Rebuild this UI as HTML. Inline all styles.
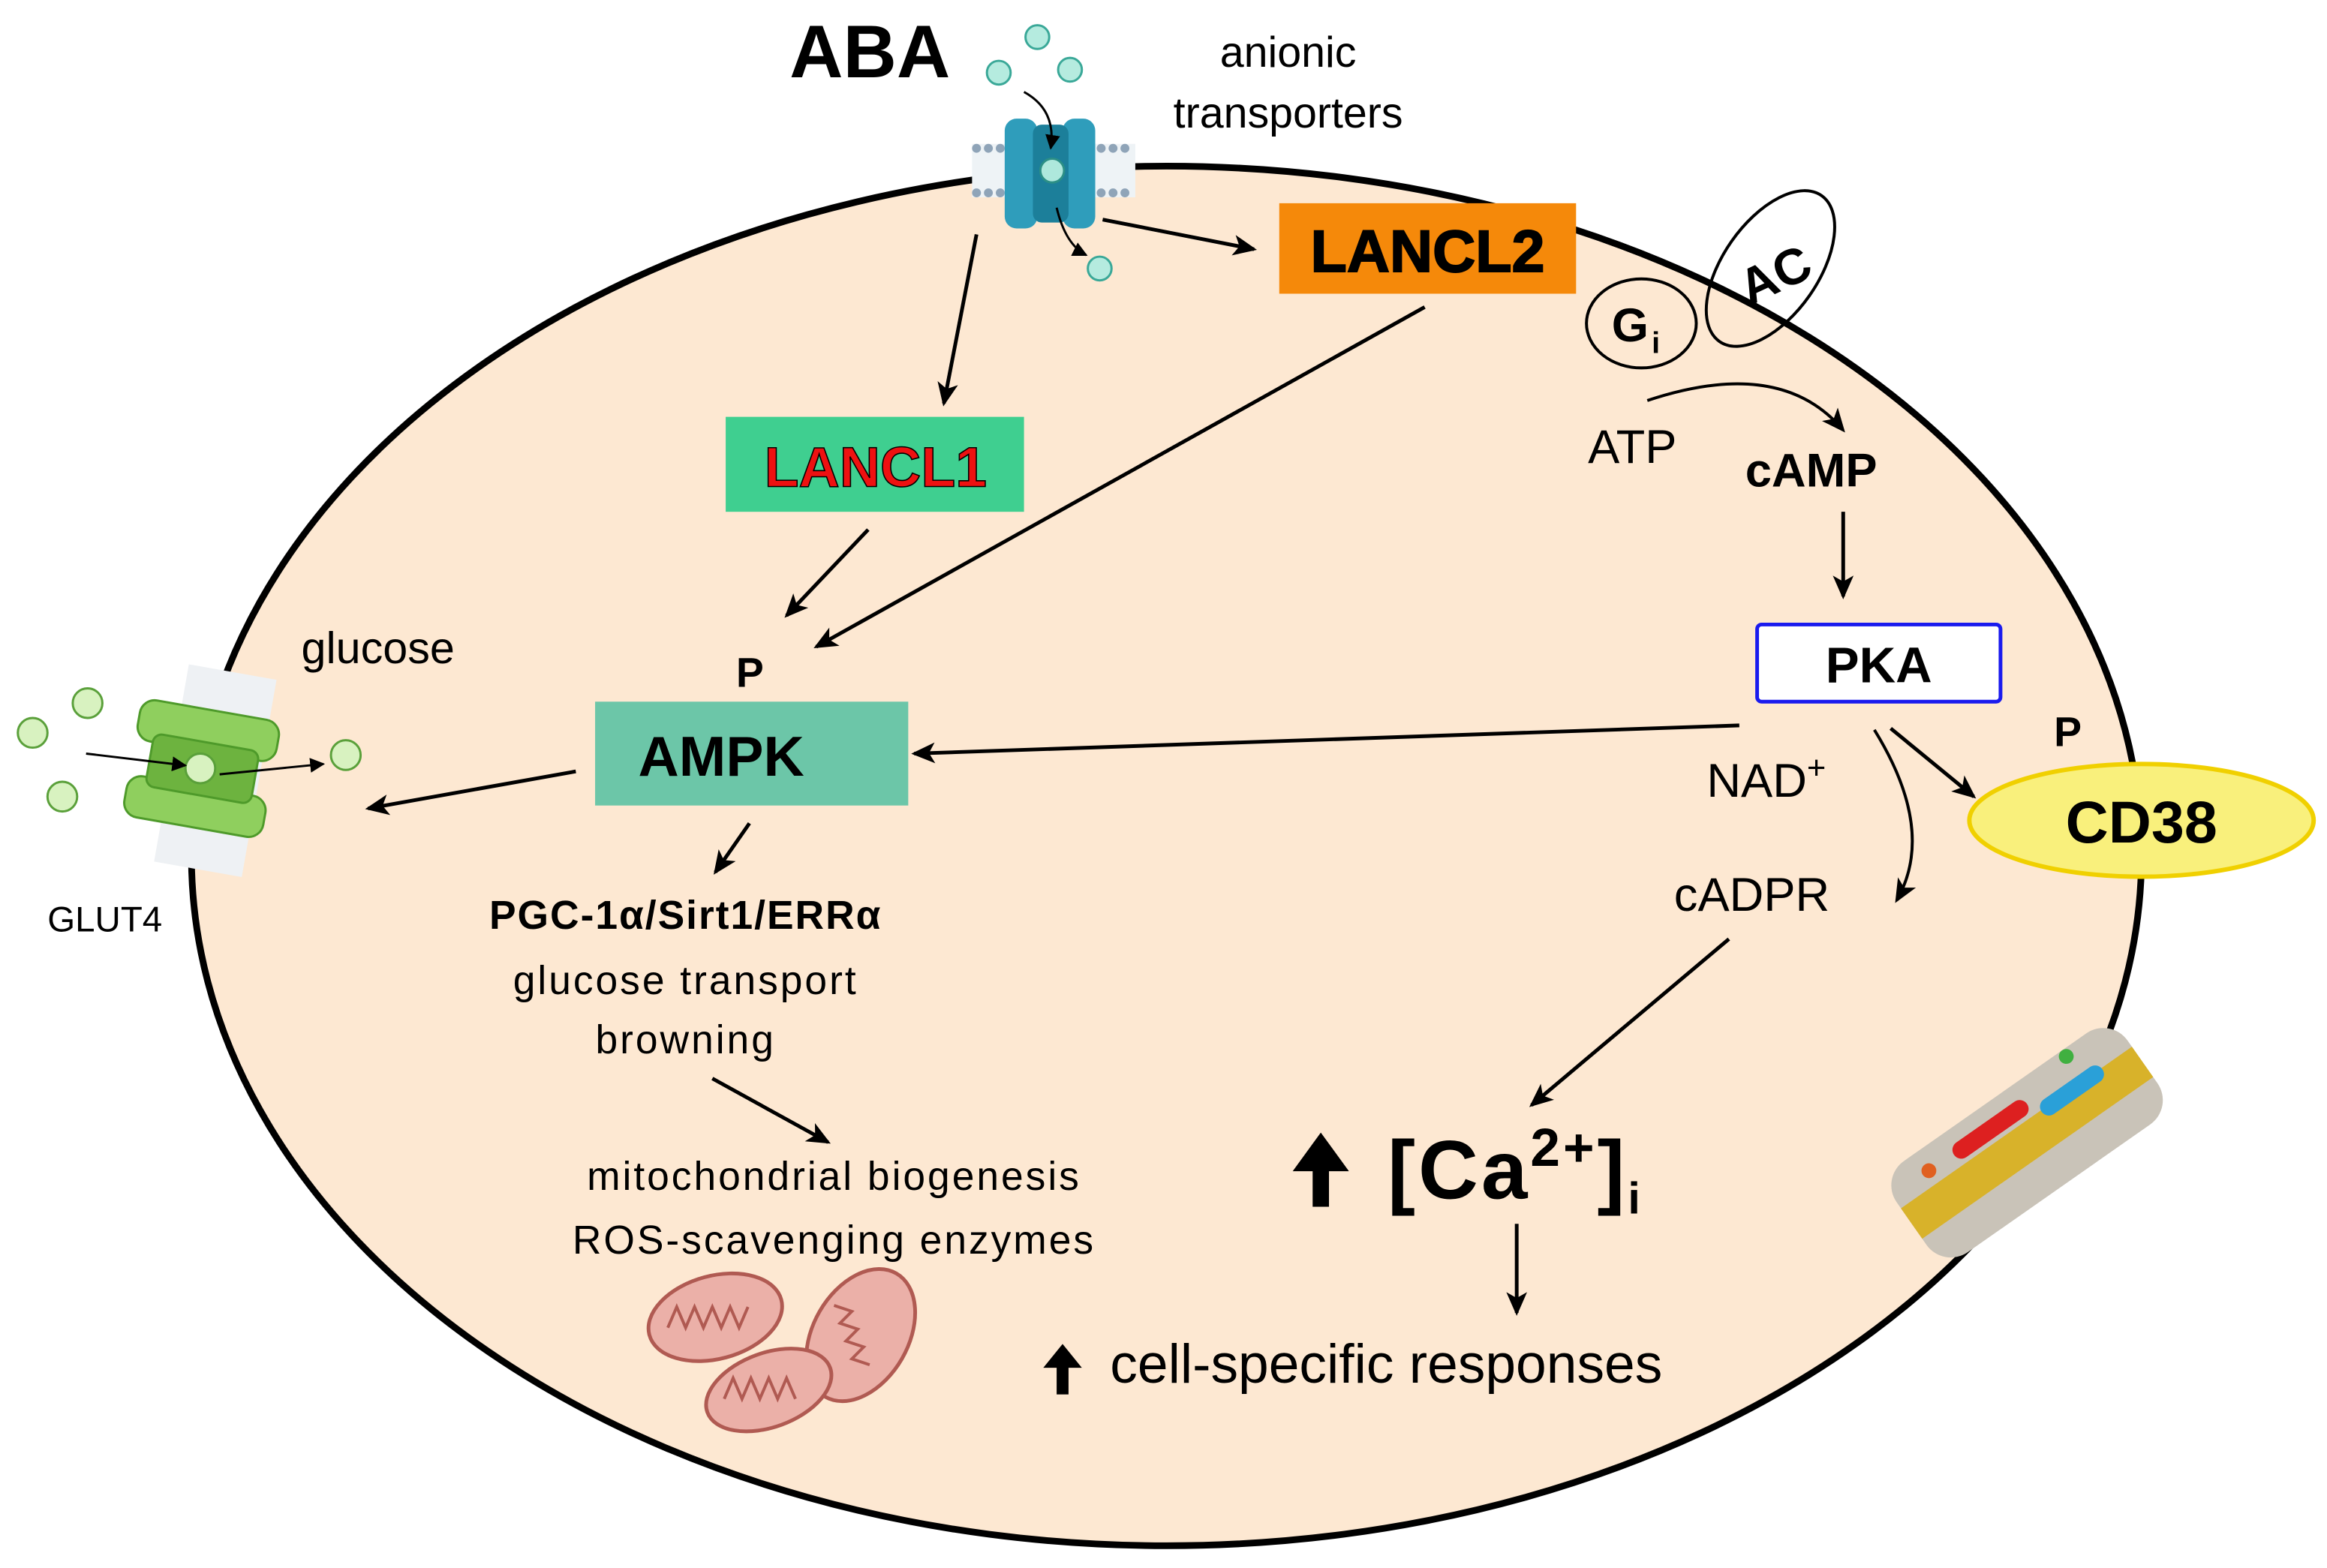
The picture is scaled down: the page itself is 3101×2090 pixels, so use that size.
<!DOCTYPE html>
<html><head><meta charset="utf-8"><style>
html,body{margin:0;padding:0;background:#fff;}
svg{display:block;}
text{font-family:"Liberation Sans",sans-serif;}
</style></head><body>
<svg width="3101" height="2090" viewBox="0 0 1568 1057" preserveAspectRatio="none" xmlns="http://www.w3.org/2000/svg">
<defs>
<marker id="a" markerWidth="16" markerHeight="14" refX="14" refY="7" orient="auto" markerUnits="userSpaceOnUse">
<path d="M0,0 L16,7 L0,14 L4,7 Z" fill="#000"/></marker>
<marker id="as" markerWidth="10" markerHeight="10" refX="9" refY="5" orient="auto" markerUnits="userSpaceOnUse">
<path d="M0,0 L10,5 L0,10 Z" fill="#000"/></marker>
</defs>
<rect width="1568" height="1057" fill="#fff"/>
<ellipse cx="786" cy="577" rx="657" ry="465" fill="#fde8d2" stroke="#000" stroke-width="4.5"/>

<text x="532" y="52" font-size="50" font-weight="bold">ABA</text>
<text x="868" y="45" font-size="29" text-anchor="middle">anionic</text>
<text x="868" y="86" font-size="29" text-anchor="middle">transporters</text>
<g>
<rect x="655" y="97" width="110" height="36" fill="#eef3f6"/>
<g fill="#8fa4b8"><circle cx="658" cy="100" r="3"/><circle cx="666" cy="100" r="3"/><circle cx="674" cy="100" r="3"/><circle cx="742" cy="100" r="3"/><circle cx="750" cy="100" r="3"/><circle cx="758" cy="100" r="3"/>
<circle cx="658" cy="130" r="3"/><circle cx="666" cy="130" r="3"/><circle cx="674" cy="130" r="3"/><circle cx="742" cy="130" r="3"/><circle cx="750" cy="130" r="3"/><circle cx="758" cy="130" r="3"/></g>
<rect x="677" y="80" width="22" height="74" rx="8" fill="#2f9dbb"/>
<rect x="716" y="80" width="22" height="74" rx="8" fill="#2f9dbb"/>
<rect x="696" y="84" width="24" height="66" rx="6" fill="#1c7f9a"/>
<circle cx="709" cy="115" r="8" fill="#aee8dc" stroke="#2c8f86" stroke-width="1.5"/>
</g>
<g fill="#b5ebdf" stroke="#3aa898" stroke-width="1.5">
<circle cx="699" cy="25" r="8"/><circle cx="673" cy="49" r="8"/><circle cx="721" cy="47" r="8"/><circle cx="741" cy="181" r="8"/>
</g>
<path d="M690,62 Q712,74 708,100" fill="none" stroke="#000" stroke-width="1.5" marker-end="url(#as)"/>
<path d="M712,140 Q718,165 732,172" fill="none" stroke="#000" stroke-width="1.5" marker-end="url(#as)"/>

<rect x="862" y="137" width="200" height="61" fill="#f5890a"/>
<text x="962" y="183" font-size="40" font-weight="bold" text-anchor="middle" stroke="#000" stroke-width="1">LANCL2</text>
<rect x="489" y="281" width="201" height="64" fill="#3fcf90"/>
<text x="590" y="328" font-size="38" font-weight="bold" text-anchor="middle" fill="#ee1111" stroke="#000" stroke-width="0.8">LANCL1</text>

<ellipse cx="1193" cy="181" rx="32" ry="60" transform="rotate(35 1193 181)" fill="none" stroke="#000" stroke-width="2"/>
<text x="1196" y="197" font-size="34" font-weight="bold" text-anchor="middle" transform="rotate(-25 1196 185)">AC</text>
<ellipse cx="1106" cy="218" rx="37" ry="30" fill="#fde8d2" stroke="#000" stroke-width="2"/>
<text x="1086" y="230" font-size="32" font-weight="bold">G</text><text x="1113" y="238" font-size="20" font-weight="bold">i</text>
<text x="1070" y="312" font-size="32">ATP</text>
<text x="1176" y="328" font-size="32" font-weight="bold">cAMP</text>
<path d="M1110,270 Q1200,240 1242,290" fill="none" stroke="#000" stroke-width="2" marker-end="url(#a)"/>
<line x1="1242" y1="345" x2="1242" y2="402" stroke="#000" stroke-width="2.5" marker-end="url(#a)"/>

<rect x="1184" y="421" width="164" height="52" rx="3" fill="#fff" stroke="#1a1aee" stroke-width="2.5"/>
<text x="1266" y="460" font-size="34" font-weight="bold" text-anchor="middle">PKA</text>
<text x="1384" y="503" font-size="28" font-weight="bold">P</text>
<ellipse cx="1443" cy="553" rx="116" ry="38" fill="#f9f07c" stroke="#f0d000" stroke-width="3"/>
<text x="1443" y="568" font-size="40" font-weight="bold" text-anchor="middle">CD38</text>
<text x="1150" y="537" font-size="32">NAD<tspan font-size="22" dy="-12">+</tspan></text>
<text x="1128" y="614" font-size="32">cADPR</text>
<line x1="1274" y1="491" x2="1330" y2="537" stroke="#000" stroke-width="2.5" marker-end="url(#a)"/>
<path d="M1263,492 Q1305,560 1278,607" fill="none" stroke="#000" stroke-width="2" marker-end="url(#a)"/>

<text x="496" y="463" font-size="28" font-weight="bold">P</text>
<rect x="401" y="473" width="211" height="70" fill="#6cc6a8"/>
<text x="486" y="523" font-size="38" font-weight="bold" text-anchor="middle">AMPK</text>

<line x1="743" y1="148" x2="845" y2="168" stroke="#000" stroke-width="2.5" marker-end="url(#a)"/>
<line x1="658" y1="158" x2="636" y2="272" stroke="#000" stroke-width="2.5" marker-end="url(#a)"/>
<line x1="585" y1="357" x2="530" y2="415" stroke="#000" stroke-width="2.5" marker-end="url(#a)"/>
<line x1="960" y1="207" x2="550" y2="436" stroke="#000" stroke-width="2.5" marker-end="url(#a)"/>
<line x1="1172" y1="489" x2="616" y2="508" stroke="#000" stroke-width="2.5" marker-end="url(#a)"/>
<line x1="388" y1="520" x2="248" y2="545" stroke="#000" stroke-width="2.5" marker-end="url(#a)"/>
<line x1="505" y1="555" x2="482" y2="588" stroke="#000" stroke-width="2.5" marker-end="url(#a)"/>
<line x1="480" y1="727" x2="558" y2="770" stroke="#000" stroke-width="2.5" marker-end="url(#a)"/>
<line x1="1165" y1="633" x2="1032" y2="745" stroke="#000" stroke-width="2.5" marker-end="url(#a)"/>
<line x1="1022" y1="825" x2="1022" y2="885" stroke="#000" stroke-width="2.5" marker-end="url(#a)"/>

<text x="203" y="447" font-size="30">glucose</text>
<text x="32" y="628" font-size="24">GLUT4</text>
<rect x="115" y="452" width="60" height="135" fill="#eef1f4" transform="rotate(10 145 520)"/>
<g transform="rotate(10 135 520)">
<rect x="88" y="478" width="95" height="28" rx="10" fill="#8fcf5e" stroke="#4e9a2a" stroke-width="1.5"/>
<rect x="88" y="530" width="95" height="28" rx="10" fill="#8fcf5e" stroke="#4e9a2a" stroke-width="1.5"/>
<rect x="100" y="500" width="72" height="36" rx="6" fill="#6db33f" stroke="#4e9a2a" stroke-width="1.5"/>
</g>
<g fill="#d8f2c0" stroke="#5aa03a" stroke-width="1.5">
<circle cx="22" cy="494" r="10"/><circle cx="59" cy="474" r="10"/><circle cx="42" cy="537" r="10"/><circle cx="135" cy="518" r="10"/><circle cx="233" cy="509" r="10"/>
</g>
<line x1="58" y1="508" x2="125" y2="516" stroke="#000" stroke-width="1.5" marker-end="url(#as)"/>
<line x1="148" y1="522" x2="218" y2="515" stroke="#000" stroke-width="1.5" marker-end="url(#as)"/>

<text x="462" y="626" font-size="27" text-anchor="middle" font-weight="bold" letter-spacing="1">PGC-1α/Sirt1/ERRα</text>
<g font-size="27" text-anchor="middle" letter-spacing="1.5">
<text x="462" y="670">glucose transport</text>
<text x="462" y="710">browning</text>
<text x="562" y="802">mitochondrial biogenesis</text>
<text x="562" y="845">ROS-scavenging enzymes</text>
</g>
<g fill="#ebb0a8" stroke="#b05a52" stroke-width="2.5">
<ellipse cx="482" cy="888" rx="46" ry="28" transform="rotate(-15 482 888)"/>
<ellipse cx="580" cy="900" rx="32" ry="48" transform="rotate(30 580 900)"/>
<ellipse cx="518" cy="937" rx="44" ry="25" transform="rotate(-20 518 937)"/>
</g>
<g fill="none" stroke="#b05a52" stroke-width="2">
<path d="M450,895 l6,-14 l6,14 l6,-14 l6,14 l6,-14 l6,14 l6,-14 l6,14 l6,-14"/>
<path d="M562,880 l12,4 l-8,8 l12,4 l-8,8 l12,4 l-8,8 l12,4"/>
<path d="M488,943 l6,-14 l6,14 l6,-14 l6,14 l6,-14 l6,14 l6,-14 l6,14"/>
</g>

<path d="M886,812 L886,788 L874,788 L890,766 L906,788 L894,788 L894,812 Z" fill="#000" stroke="#000" stroke-width="3"/>
<text x="935" y="808" font-size="56" font-weight="bold" letter-spacing="2">[Ca<tspan font-size="36" dy="-22">2+</tspan><tspan dy="22">]</tspan><tspan font-size="30" dy="10">i</tspan></text>
<path d="M712,940 L712,922 L703,922 L716,906 L729,922 L720,922 L720,940 Z" fill="#000"/>
<text x="748" y="932" font-size="37">cell-specific responses</text>

<g transform="rotate(-35 1362 770)">
<rect x="1270" y="735" width="190" height="75" rx="20" fill="#c9c3b8"/>
<rect x="1270" y="760" width="190" height="25" fill="#d8b22a"/>
<rect x="1320" y="745" width="60" height="12" rx="6" fill="#dd2020"/>
<rect x="1385" y="755" width="50" height="12" rx="6" fill="#2aa0d8"/>
<circle cx="1300" cy="750" r="5" fill="#e06020"/><circle cx="1420" cy="740" r="5" fill="#40b040"/>
</g>
</svg>
</body></html>
